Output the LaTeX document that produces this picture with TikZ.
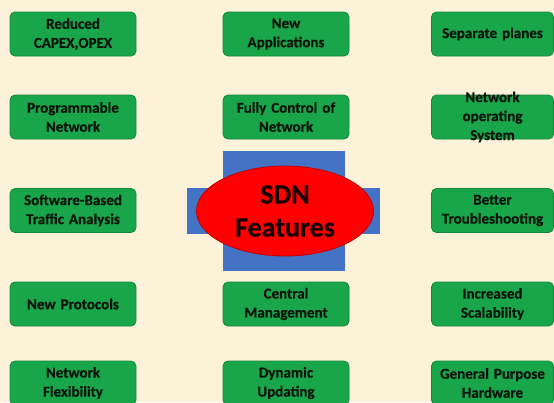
\documentclass[tikz,border=0pt]{standalone}
\usepackage{fontspec}
\setmainfont{Carlito}[BoldFeatures={FakeBold=0.6}]
\usetikzlibrary{shapes.geometric}
\definecolor{bgcream}{HTML}{FCF2D9}
\definecolor{boxgreen}{HTML}{19A64A}
\definecolor{boxedge}{HTML}{15873C}
\definecolor{crossblue}{HTML}{4472C4}
\definecolor{ellred}{HTML}{FF0000}
\definecolor{elledge}{HTML}{C00000}
\definecolor{titletext}{HTML}{1A0000}
\definecolor{boxtext}{HTML}{0A140A}
\tikzset{
  featbox/.style={rounded corners=5pt, fill=boxgreen, draw=boxedge, line width=0.8pt,
    minimum width=126pt, minimum height=44pt, inner xsep=1pt, inner ysep=2pt,
    text width=124pt, align=center,
    font=\fontsize{15}{19}\selectfont\bfseries, text=boxtext},
  narrowbox/.style={featbox, minimum width=121pt, text width=120pt},
  crossbar/.style={fill=crossblue, draw=none, inner sep=0pt},
}
\begin{document}
\begin{tikzpicture}[x=1pt,y=-1pt]
\useasboundingbox (0,0) rectangle (554,402);
\clip (0,0) rectangle (554,402);
\fill[bgcream] (0,0) rectangle (554,402);

% left column
\node[featbox] (a1) at (73,34) {Reduced\\CAPEX,OPEX};
\node[featbox] (a2) at (73,117) {Programmable\\Network};
\node[featbox] (a3) at (73,210.5) {Software-Based\\Traffic Analysis};
\node[featbox] (a4) at (73,304) {New Protocols};
\node[featbox] (a5) at (73,383) {Network\\Flexibility};

% middle column
\node[featbox] (b1) at (286,34) {New\\Applications};
\node[featbox] (b2) at (286,117) {Fully Control of\\Network};
\node[featbox] (b4) at (286,304) {Central\\Management};
\node[featbox] (b5) at (286,383) {Dynamic\\Updating};

% right column
\node[narrowbox] (c1) at (492.5,34) {Separate planes};
\node[narrowbox, inner ysep=-5pt] (c2) at (492.5,117) {Network\\operating\\System};
\node[narrowbox] (c3) at (492.5,210.5) {Better\\Troubleshooting};
\node[narrowbox] (c4) at (492.5,304) {Increased\\Scalability};
\node[narrowbox] (c5) at (492.5,383) {General Purpose\\Hardware};

% centre
\node[crossbar, minimum width=122pt, minimum height=120pt] (vbar) at (284,211) {};
\node[crossbar, minimum width=193pt, minimum height=46pt] (hbar) at (283.5,211) {};
\node[ellipse, fill=ellred, draw=elledge, line width=0.8pt, inner sep=0pt,
  minimum width=177pt, minimum height=90pt, align=center,
  font=\fontsize{28}{33}\selectfont\bfseries, text=titletext] (core) at (285,211) {SDN\\Features};
\end{tikzpicture}
\end{document}
